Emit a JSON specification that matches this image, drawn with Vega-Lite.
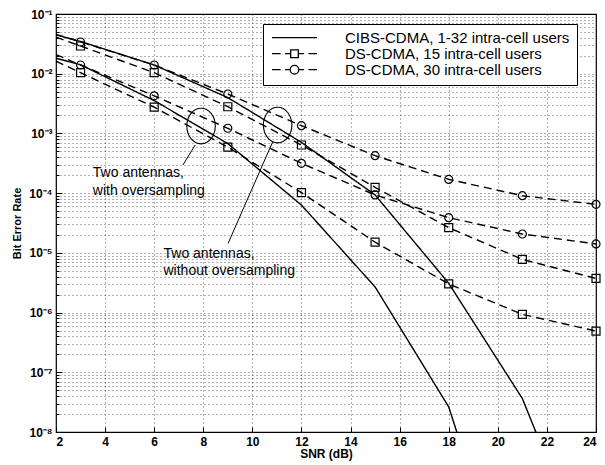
{
  "$schema": "https://vega.github.io/schema/vega-lite/v6.json",
  "width": 540,
  "height": 418,
  "autosize": "none",
  "padding": {"left": 56, "top": 14, "right": 9, "bottom": 33},
  "background": "white",
  "config": {
    "view": {"stroke": "black", "strokeWidth": 1.2},
    "font": "Liberation Sans",
    "axis": {
      "labelColor": "black", "titleColor": "black", "tickColor": "black",
      "domain": false, "grid": true, "gridColor": "black", "gridDash": [1, 3],
      "gridOpacity": 0.75, "gridWidth": 0.8, "labelFont": "Liberation Sans",
      "titleFont": "Liberation Sans"
    }
  },
  "resolve": {"scale": {"shape": "independent"}, "legend": {"strokeDash": "independent", "shape": "independent"}},
  "datasets": {
    "curves": [
      {"x": 2, "ber": 4.47e-2, "series": "CIBS-CDMA, 1-32 intra-cell users", "group": "without"},
      {"x": 3, "ber": 3.47e-2, "series": "CIBS-CDMA, 1-32 intra-cell users", "group": "without"},
      {"x": 6, "ber": 1.40e-2, "series": "CIBS-CDMA, 1-32 intra-cell users", "group": "without"},
      {"x": 9, "ber": 3.98e-3, "series": "CIBS-CDMA, 1-32 intra-cell users", "group": "without"},
      {"x": 12, "ber": 7.08e-4, "series": "CIBS-CDMA, 1-32 intra-cell users", "group": "without"},
      {"x": 15, "ber": 9.33e-5, "series": "CIBS-CDMA, 1-32 intra-cell users", "group": "without"},
      {"x": 18, "ber": 3.09e-6, "series": "CIBS-CDMA, 1-32 intra-cell users", "group": "without"},
      {"x": 21, "ber": 3.63e-8, "series": "CIBS-CDMA, 1-32 intra-cell users", "group": "without"},
      {"x": 24, "ber": 3.2e-11, "series": "CIBS-CDMA, 1-32 intra-cell users", "group": "without"},
      {"x": 2, "ber": 4.1e-2, "series": "DS-CDMA, 15 intra-cell users", "group": "without"},
      {"x": 3, "ber": 2.91e-2, "series": "DS-CDMA, 15 intra-cell users", "group": "without"},
      {"x": 6, "ber": 1.04e-2, "series": "DS-CDMA, 15 intra-cell users", "group": "without"},
      {"x": 9, "ber": 2.80e-3, "series": "DS-CDMA, 15 intra-cell users", "group": "without"},
      {"x": 12, "ber": 6.40e-4, "series": "DS-CDMA, 15 intra-cell users", "group": "without"},
      {"x": 15, "ber": 1.25e-4, "series": "DS-CDMA, 15 intra-cell users", "group": "without"},
      {"x": 18, "ber": 2.64e-5, "series": "DS-CDMA, 15 intra-cell users", "group": "without"},
      {"x": 21, "ber": 7.78e-6, "series": "DS-CDMA, 15 intra-cell users", "group": "without"},
      {"x": 24, "ber": 3.74e-6, "series": "DS-CDMA, 15 intra-cell users", "group": "without"},
      {"x": 2, "ber": 4.57e-2, "series": "DS-CDMA, 30 intra-cell users", "group": "without"},
      {"x": 3, "ber": 3.40e-2, "series": "DS-CDMA, 30 intra-cell users", "group": "without"},
      {"x": 6, "ber": 1.40e-2, "series": "DS-CDMA, 30 intra-cell users", "group": "without"},
      {"x": 9, "ber": 4.57e-3, "series": "DS-CDMA, 30 intra-cell users", "group": "without"},
      {"x": 12, "ber": 1.35e-3, "series": "DS-CDMA, 30 intra-cell users", "group": "without"},
      {"x": 15, "ber": 4.24e-4, "series": "DS-CDMA, 30 intra-cell users", "group": "without"},
      {"x": 18, "ber": 1.70e-4, "series": "DS-CDMA, 30 intra-cell users", "group": "without"},
      {"x": 21, "ber": 9.06e-5, "series": "DS-CDMA, 30 intra-cell users", "group": "without"},
      {"x": 24, "ber": 6.49e-5, "series": "DS-CDMA, 30 intra-cell users", "group": "without"},
      {"x": 2, "ber": 1.82e-2, "series": "CIBS-CDMA, 1-32 intra-cell users", "group": "with"},
      {"x": 3, "ber": 1.41e-2, "series": "CIBS-CDMA, 1-32 intra-cell users", "group": "with"},
      {"x": 6, "ber": 3.55e-3, "series": "CIBS-CDMA, 1-32 intra-cell users", "group": "with"},
      {"x": 9, "ber": 6.76e-4, "series": "CIBS-CDMA, 1-32 intra-cell users", "group": "with"},
      {"x": 12, "ber": 6.31e-5, "series": "CIBS-CDMA, 1-32 intra-cell users", "group": "with"},
      {"x": 15, "ber": 2.69e-6, "series": "CIBS-CDMA, 1-32 intra-cell users", "group": "with"},
      {"x": 18, "ber": 2.63e-8, "series": "CIBS-CDMA, 1-32 intra-cell users", "group": "with"},
      {"x": 21, "ber": 4e-12, "series": "CIBS-CDMA, 1-32 intra-cell users", "group": "with"},
      {"x": 2, "ber": 1.62e-2, "series": "DS-CDMA, 15 intra-cell users", "group": "with"},
      {"x": 3, "ber": 1.04e-2, "series": "DS-CDMA, 15 intra-cell users", "group": "with"},
      {"x": 6, "ber": 2.75e-3, "series": "DS-CDMA, 15 intra-cell users", "group": "with"},
      {"x": 9, "ber": 5.89e-4, "series": "DS-CDMA, 15 intra-cell users", "group": "with"},
      {"x": 12, "ber": 1.02e-4, "series": "DS-CDMA, 15 intra-cell users", "group": "with"},
      {"x": 15, "ber": 1.51e-5, "series": "DS-CDMA, 15 intra-cell users", "group": "with"},
      {"x": 18, "ber": 3.02e-6, "series": "DS-CDMA, 15 intra-cell users", "group": "with"},
      {"x": 21, "ber": 9.33e-7, "series": "DS-CDMA, 15 intra-cell users", "group": "with"},
      {"x": 24, "ber": 4.90e-7, "series": "DS-CDMA, 15 intra-cell users", "group": "with"},
      {"x": 2, "ber": 2.09e-2, "series": "DS-CDMA, 30 intra-cell users", "group": "with"},
      {"x": 3, "ber": 1.40e-2, "series": "DS-CDMA, 30 intra-cell users", "group": "with"},
      {"x": 6, "ber": 4.27e-3, "series": "DS-CDMA, 30 intra-cell users", "group": "with"},
      {"x": 9, "ber": 1.22e-3, "series": "DS-CDMA, 30 intra-cell users", "group": "with"},
      {"x": 12, "ber": 3.16e-4, "series": "DS-CDMA, 30 intra-cell users", "group": "with"},
      {"x": 15, "ber": 9.33e-5, "series": "DS-CDMA, 30 intra-cell users", "group": "with"},
      {"x": 18, "ber": 3.89e-5, "series": "DS-CDMA, 30 intra-cell users", "group": "with"},
      {"x": 21, "ber": 2.07e-5, "series": "DS-CDMA, 30 intra-cell users", "group": "with"},
      {"x": 24, "ber": 1.41e-5, "series": "DS-CDMA, 30 intra-cell users", "group": "with"}
    ],
    "notes": [
      {"x": 3.5, "ber": 1.86e-4, "text": "Two antennas,"},
      {"x": 3.5, "ber": 9.29e-5, "text": "with oversampling"},
      {"x": 6.38, "ber": 8.09e-6, "text": "Two antennas,"},
      {"x": 6.38, "ber": 4.25e-6, "text": "without oversampling"}
    ],
    "ellipses": [
      {"x": 7.91, "ber": 1.33e-3},
      {"x": 11.03, "ber": 1.38e-3}
    ],
    "leaders": [
      {"x": 7.67, "ber": 6.40e-4, "x2": 7.17, "ber2": 2.96e-4},
      {"x": 10.83, "ber": 7.26e-4, "x2": 9.01, "ber2": 1.44e-5}
    ]
  },
  "encoding": {
    "x": {
      "field": "x", "type": "quantitative",
      "scale": {"domain": [2, 24], "nice": false},
      "axis": {
        "values": [2, 4, 6, 8, 10, 12, 14, 16, 18, 20, 22, 24],
        "title": "SNR (dB)", "titleFontSize": 12, "titleFontWeight": "bold", "titlePadding": 1,
        "labelFontSize": 12, "labelFontWeight": "bold", "tickSize": -5, "labelPadding": 9
      }
    },
    "y": {
      "field": "ber", "type": "quantitative",
      "scale": {"type": "log", "domain": [1e-8, 1e-1], "nice": false},
      "axis": {
        "values": [1e-8, 2e-8, 3e-8, 4e-8, 5e-8, 6e-8, 7e-8, 8e-8, 9e-8,
                   1e-7, 2e-7, 3e-7, 4e-7, 5e-7, 6e-7, 7e-7, 8e-7, 9e-7,
                   1e-6, 2e-6, 3e-6, 4e-6, 5e-6, 6e-6, 7e-6, 8e-6, 9e-6,
                   1e-5, 2e-5, 3e-5, 4e-5, 5e-5, 6e-5, 7e-5, 8e-5, 9e-5,
                   1e-4, 2e-4, 3e-4, 4e-4, 5e-4, 6e-4, 7e-4, 8e-4, 9e-4,
                   1e-3, 2e-3, 3e-3, 4e-3, 5e-3, 6e-3, 7e-3, 8e-3, 9e-3,
                   1e-2, 2e-2, 3e-2, 4e-2, 5e-2, 6e-2, 7e-2, 8e-2, 9e-2, 1e-1],
        "labelExpr": "abs(log(datum.value)/LN10 - round(log(datum.value)/LN10)) < 0.001 ? '10' + ['⁻⁸','⁻⁷','⁻⁶','⁻⁵','⁻⁴','⁻³','⁻²','⁻¹'][round(log(datum.value)/LN10) + 8] : ''",
        "tickSize": {"condition": {"test": "abs(log(datum.value)/LN10 - round(log(datum.value)/LN10)) < 0.001", "value": -6}, "value": -3},
        "labelPadding": 10, "labelFontSize": 12, "labelFontWeight": "bold",
        "title": "Bit Error Rate", "titleFontSize": 11, "titleFontWeight": "bold", "titlePadding": 6
      }
    }
  },
  "layer": [
    {
      "data": {"name": "curves"},
      "mark": {"type": "line", "clip": true, "color": "black", "strokeWidth": 1.4},
      "encoding": {
        "detail": {"field": "group"},
        "strokeDash": {
          "field": "series", "type": "nominal",
          "scale": {
            "domain": ["CIBS-CDMA, 1-32 intra-cell users", "DS-CDMA, 15 intra-cell users", "DS-CDMA, 30 intra-cell users"],
            "range": [[1, 0], [8, 5], [8, 5]]
          },
          "legend": null
        }
      }
    },
    {
      "data": {"name": "curves"},
      "transform": [
        {"filter": "datum.series !== 'CIBS-CDMA, 1-32 intra-cell users' && datum.x >= 3"}
      ],
      "mark": {"type": "point", "filled": false, "color": "black", "strokeWidth": 1.2, "size": 64, "opacity": 1},
      "encoding": {
        "shape": {
          "field": "series", "type": "nominal",
          "scale": {"domain": ["DS-CDMA, 15 intra-cell users", "DS-CDMA, 30 intra-cell users"], "range": ["square", "circle"]},
          "legend": null
        }
      }
    },
    {
      "data": {"name": "curves"},
      "transform": [{"filter": "datum.x < 0"}],
      "mark": {"type": "point", "filled": false, "color": "black", "strokeWidth": 1.3, "size": 81, "opacity": 1},
      "encoding": {
        "shape": {
          "field": "series", "type": "nominal",
          "scale": {
            "domain": ["CIBS-CDMA, 1-32 intra-cell users", "DS-CDMA, 15 intra-cell users", "DS-CDMA, 30 intra-cell users"],
            "range": [
              "M-5,0H5",
              "M-5,0H-3.1M-2.1,0H-1M-0.85,-0.85H0.85V0.85H-0.85ZM1,0H2.1M3.1,0H5",
              "M-5,0H-3.1M-2.1,0H-1M1,0H2.1M3.1,0H5M0.95,0A0.95,0.95,0,1,1,-0.95,0A0.95,0.95,0,1,1,0.95,0"
            ]
          },
          "legend": {
            "title": null, "orient": "none", "legendX": 207, "legendY": 10,
            "padding": 7, "strokeColor": "black", "fillColor": "white",
            "labelFont": "Liberation Sans", "labelFontSize": 15, "labelColor": "black", "labelLimit": 400,
            "symbolStrokeColor": "black", "symbolStrokeWidth": 1.3, "symbolSize": 81, "symbolFillColor": "transparent",
            "symbolOffset": 17, "labelOffset": 43, "clipHeight": 13.4, "rowPadding": 0
          }
        }
      }
    },
    {
      "data": {"name": "ellipses"},
      "mark": {"type": "point", "filled": false, "color": "black", "strokeWidth": 1.1, "size": 1267, "opacity": 1,
               "shape": "M0.8,0A0.8,1,0,1,1,-0.8,0A0.8,1,0,1,1,0.8,0"},
      "encoding": {}
    },
    {
      "data": {"name": "leaders"},
      "mark": {"type": "rule", "color": "black", "strokeWidth": 1},
      "encoding": {
        "x2": {"field": "x2"},
        "y2": {"field": "ber2"}
      }
    },
    {
      "data": {"name": "notes"},
      "mark": {"type": "text", "align": "left", "baseline": "alphabetic", "font": "Liberation Sans", "fontSize": 14, "color": "black"},
      "encoding": {
        "text": {"field": "text"}
      }
    }
  ]
}
